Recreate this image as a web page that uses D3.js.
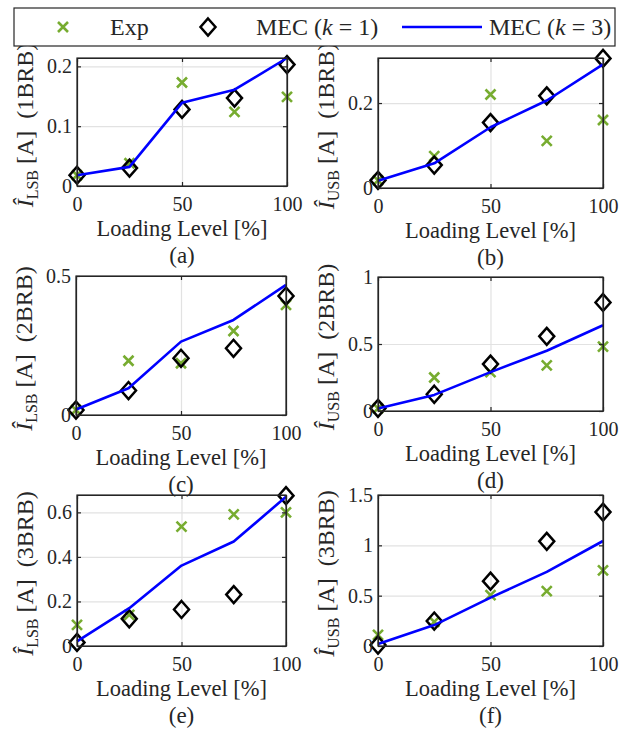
<!DOCTYPE html>
<html>
<head>
<meta charset="utf-8">
<script src="https://cdn.jsdelivr.net/npm/d3@7"></script>
<style>
  body { margin: 0; background: #fff; }
  text { font-family: "Liberation Serif", "Times New Roman", serif; fill: #262626; white-space: pre; }
</style>
</head>
<body>
<div id="chart"></div>
<script>
// DATA
var loading = [0, 25, 50, 75, 100];
var xTicks = [0, 50, 100];

// (a) LSB, 1BRB
var exp_a  = [0.018, 0.038, 0.173, 0.124, 0.149];
var mec1_a = [0.018, 0.030, 0.128, 0.147, 0.203];
var mec3_a = [0.018, 0.032, 0.139, 0.161, 0.214];
var yTicks_a = [0, 0.1, 0.2];

// (b) USB, 1BRB
var exp_b  = [0.018, 0.075, 0.220, 0.111, 0.160];
var mec1_b = [0.018, 0.054, 0.154, 0.217, 0.305];
var mec3_b = [0.017, 0.058, 0.143, 0.206, 0.291];
var yTicks_b = [0, 0.2];

// (c) LSB, 2BRB
var exp_c  = [0.018, 0.195, 0.186, 0.302, 0.396];
var mec1_c = [0.018, 0.088, 0.204, 0.240, 0.428];
var mec3_c = [0.020, 0.096, 0.264, 0.342, 0.468];
var yTicks_c = [0, 0.5];

// (d) USB, 2BRB
var exp_d  = [0.020, 0.250, 0.290, 0.340, 0.480];
var mec1_d = [0.020, 0.125, 0.350, 0.557, 0.810];
var mec3_d = [0.018, 0.120, 0.290, 0.450, 0.640];
var yTicks_d = [0, 0.5, 1];

// (e) LSB, 3BRB
var exp_e  = [0.095, 0.140, 0.536, 0.591, 0.600];
var mec1_e = [0.016, 0.122, 0.164, 0.231, 0.675];
var mec3_e = [0.021, 0.170, 0.361, 0.469, 0.670];
var yTicks_e = [0, 0.2, 0.4, 0.6];

// (f) USB, 3BRB
var exp_f  = [0.110, 0.240, 0.505, 0.545, 0.752];
var mec1_f = [0.010, 0.248, 0.644, 1.040, 1.330];
var mec3_f = [0.020, 0.208, 0.480, 0.736, 1.043];
var yTicks_f = [0, 0.5, 1, 1.5];

var yMax = [0.214, 0.306, 0.5, 1, 0.678, 1.5];
var bands = ["LSB", "USB", "LSB", "USB", "LSB", "USB"];
var faults = ["1BRB", "1BRB", "2BRB", "2BRB", "3BRB", "3BRB"];
var captions = ["(a)", "(b)", "(c)", "(d)", "(e)", "(f)"];
var legendLabels = ["Exp", "MEC (k=1)", "MEC (k=3)"];

// SETUP
var svgWidth = 631, svgHeight = 730;
var green = "#77ac30", blue = "#0000ff", ink = "#262626", gridCol = "#e2e2e2";

var svg = d3.select("#chart").append("svg")
  .attr("width", svgWidth)
  .attr("height", svgHeight);

// panel boxes in pixels
var boxes = [
  {left: 77, right: 287, top: 58, bottom: 186},
  {left: 378, right: 603, top: 58, bottom: 188},
  {left: 76, right: 286, top: 276, bottom: 415},
  {left: 378, right: 603, top: 277, bottom: 411},
  {left: 77, right: 286, top: 495, bottom: 646},
  {left: 378, right: 603, top: 495, bottom: 646}
];

var panels = [
  {exp: exp_a, mec1: mec1_a, mec3: mec3_a, ticks: yTicks_a},
  {exp: exp_b, mec1: mec1_b, mec3: mec3_b, ticks: yTicks_b},
  {exp: exp_c, mec1: mec1_c, mec3: mec3_c, ticks: yTicks_c},
  {exp: exp_d, mec1: mec1_d, mec3: mec3_d, ticks: yTicks_d},
  {exp: exp_e, mec1: mec1_e, mec3: mec3_e, ticks: yTicks_e},
  {exp: exp_f, mec1: mec1_f, mec3: mec3_f, ticks: yTicks_f}
];

var crossPath = "M-5,-5L5,5M-5,5L5,-5";
var diamondPath = "M0,-8.5L7.5,0L0,8.5L-7.5,0Z";

panels.forEach(function(p, i) {
  var b = boxes[i];
  var w = b.right - b.left, h = b.bottom - b.top;

  var x = d3.scaleLinear().domain([0, 100]).range([0, w]);
  var y = d3.scaleLinear().domain([0, yMax[i]]).range([h, 0]);

  var g = svg.append("g").attr("transform", `translate(${b.left}, ${b.top})`);

  // grid (light grey, behind data)
  var grid = g.append("g").attr("class", "grid");
  grid.append("g")
    .call(d3.axisLeft(y).tickValues(p.ticks).tickSize(-w).tickFormat(""));
  grid.append("g")
    .attr("transform", `translate(0, ${h})`)
    .call(d3.axisBottom(x).tickValues(xTicks).tickSize(-h).tickFormat(""));
  grid.selectAll(".domain").remove();
  grid.selectAll("line").attr("stroke", gridCol).attr("stroke-width", 1.2);

  // Exp crosses
  g.selectAll(".exp")
    .data(p.exp)
    .enter()
    .append("path")
    .attr("class", "exp")
    .attr("d", crossPath)
    .attr("transform", (d, j) => `translate(${x(loading[j])}, ${y(d)})`)
    .attr("stroke", green)
    .attr("stroke-width", 2.6)
    .attr("fill", "none");

  // MEC k=1 diamonds
  g.selectAll(".mec1")
    .data(p.mec1)
    .enter()
    .append("path")
    .attr("class", "mec1")
    .attr("d", diamondPath)
    .attr("transform", (d, j) => `translate(${x(loading[j])}, ${y(d)})`)
    .attr("stroke", "#000")
    .attr("stroke-width", 2.5)
    .attr("fill", "none");

  // MEC k=3 line
  var line = d3.line()
    .x((d, j) => x(loading[j]))
    .y(d => y(d));
  g.append("path")
    .datum(p.mec3)
    .attr("d", line)
    .attr("stroke", blue)
    .attr("stroke-width", 2.6)
    .attr("stroke-linejoin", "round")
    .attr("fill", "none");

  // axes (ticks inside, box on)
  var fmt = d => String(d);
  var axes = g.append("g").attr("class", "axes");
  axes.append("g")
    .attr("transform", `translate(0, ${h})`)
    .call(d3.axisBottom(x).tickValues(xTicks).tickSize(-4).tickSizeOuter(0).tickPadding(11).tickFormat(fmt));
  axes.append("g")
    .call(d3.axisLeft(y).tickValues(p.ticks).tickSize(-4).tickSizeOuter(0).tickPadding(5).tickFormat(fmt));
  axes.append("g")
    .attr("transform", `translate(${w}, 0)`)
    .call(d3.axisRight(y).tickValues(p.ticks).tickSize(-4).tickSizeOuter(0).tickFormat(""));
  axes.append("g")
    .call(d3.axisTop(x).tickValues(xTicks).tickSize(-4).tickSizeOuter(0).tickFormat(""));
  axes.selectAll(".domain, .tick line").attr("stroke", ink).attr("stroke-width", 1.2);
  axes.selectAll(".tick text")
    .style("font-family", '"Liberation Serif", serif')
    .style("font-size", "20px")
    .attr("fill", ink);

  axes.append("rect")
    .attr("width", w).attr("height", h)
    .attr("fill", "none")
    .attr("stroke", ink)
    .attr("stroke-width", 1.2);

  // x label and caption
  g.append("text")
    .attr("x", w / 2).attr("y", h + 50)
    .attr("text-anchor", "middle")
    .style("font-size", "22.5px")
    .text("Loading Level [%]");
  g.append("text")
    .attr("x", w / 2).attr("y", h + 77)
    .attr("text-anchor", "middle")
    .style("font-size", "23px")
    .text(captions[i]);

  // y label
  var yl = g.append("text")
    .attr("transform", `translate(-44, ${h / 2 + 3}) rotate(-90)`)
    .attr("text-anchor", "middle")
    .style("font-size", "24px");
  yl.append("tspan").style("font-style", "italic").text("Î");
  yl.append("tspan").attr("dy", 5).style("font-size", "16px").text(bands[i]);
  yl.append("tspan").attr("dy", -5).text(" [A]  (" + faults[i] + ")");
});

// LEGEND
var legend = svg.append("g");
legend.append("rect")
  .attr("x", 14).attr("y", 8)
  .attr("width", 601).attr("height", 38)
  .attr("fill", "#fff")
  .attr("stroke", ink)
  .attr("stroke-width", 1.2);

var ly = 27;
legend.append("path")
  .attr("d", crossPath)
  .attr("transform", `translate(63, ${ly})`)
  .attr("stroke", green).attr("stroke-width", 2.6).attr("fill", "none");
legend.append("text")
  .attr("x", 110).attr("y", ly + 8)
  .style("font-size", "24px")
  .text(legendLabels[0]);

legend.append("path")
  .attr("d", diamondPath)
  .attr("transform", `translate(208, ${ly})`)
  .attr("stroke", "#000").attr("stroke-width", 2.5).attr("fill", "none");
function mecLabel(xPos, k) {
  var t = legend.append("text")
    .attr("x", xPos).attr("y", ly + 8)
    .style("font-size", "24px");
  t.append("tspan").text("MEC (");
  t.append("tspan").style("font-style", "italic").text("k");
  t.append("tspan").text(" = " + k + ")");
}
mecLabel(256, 1);

legend.append("line")
  .attr("x1", 402).attr("x2", 482)
  .attr("y1", ly).attr("y2", ly)
  .attr("stroke", blue).attr("stroke-width", 2.6);
mecLabel(489, 3);
</script>
</body>
</html>
